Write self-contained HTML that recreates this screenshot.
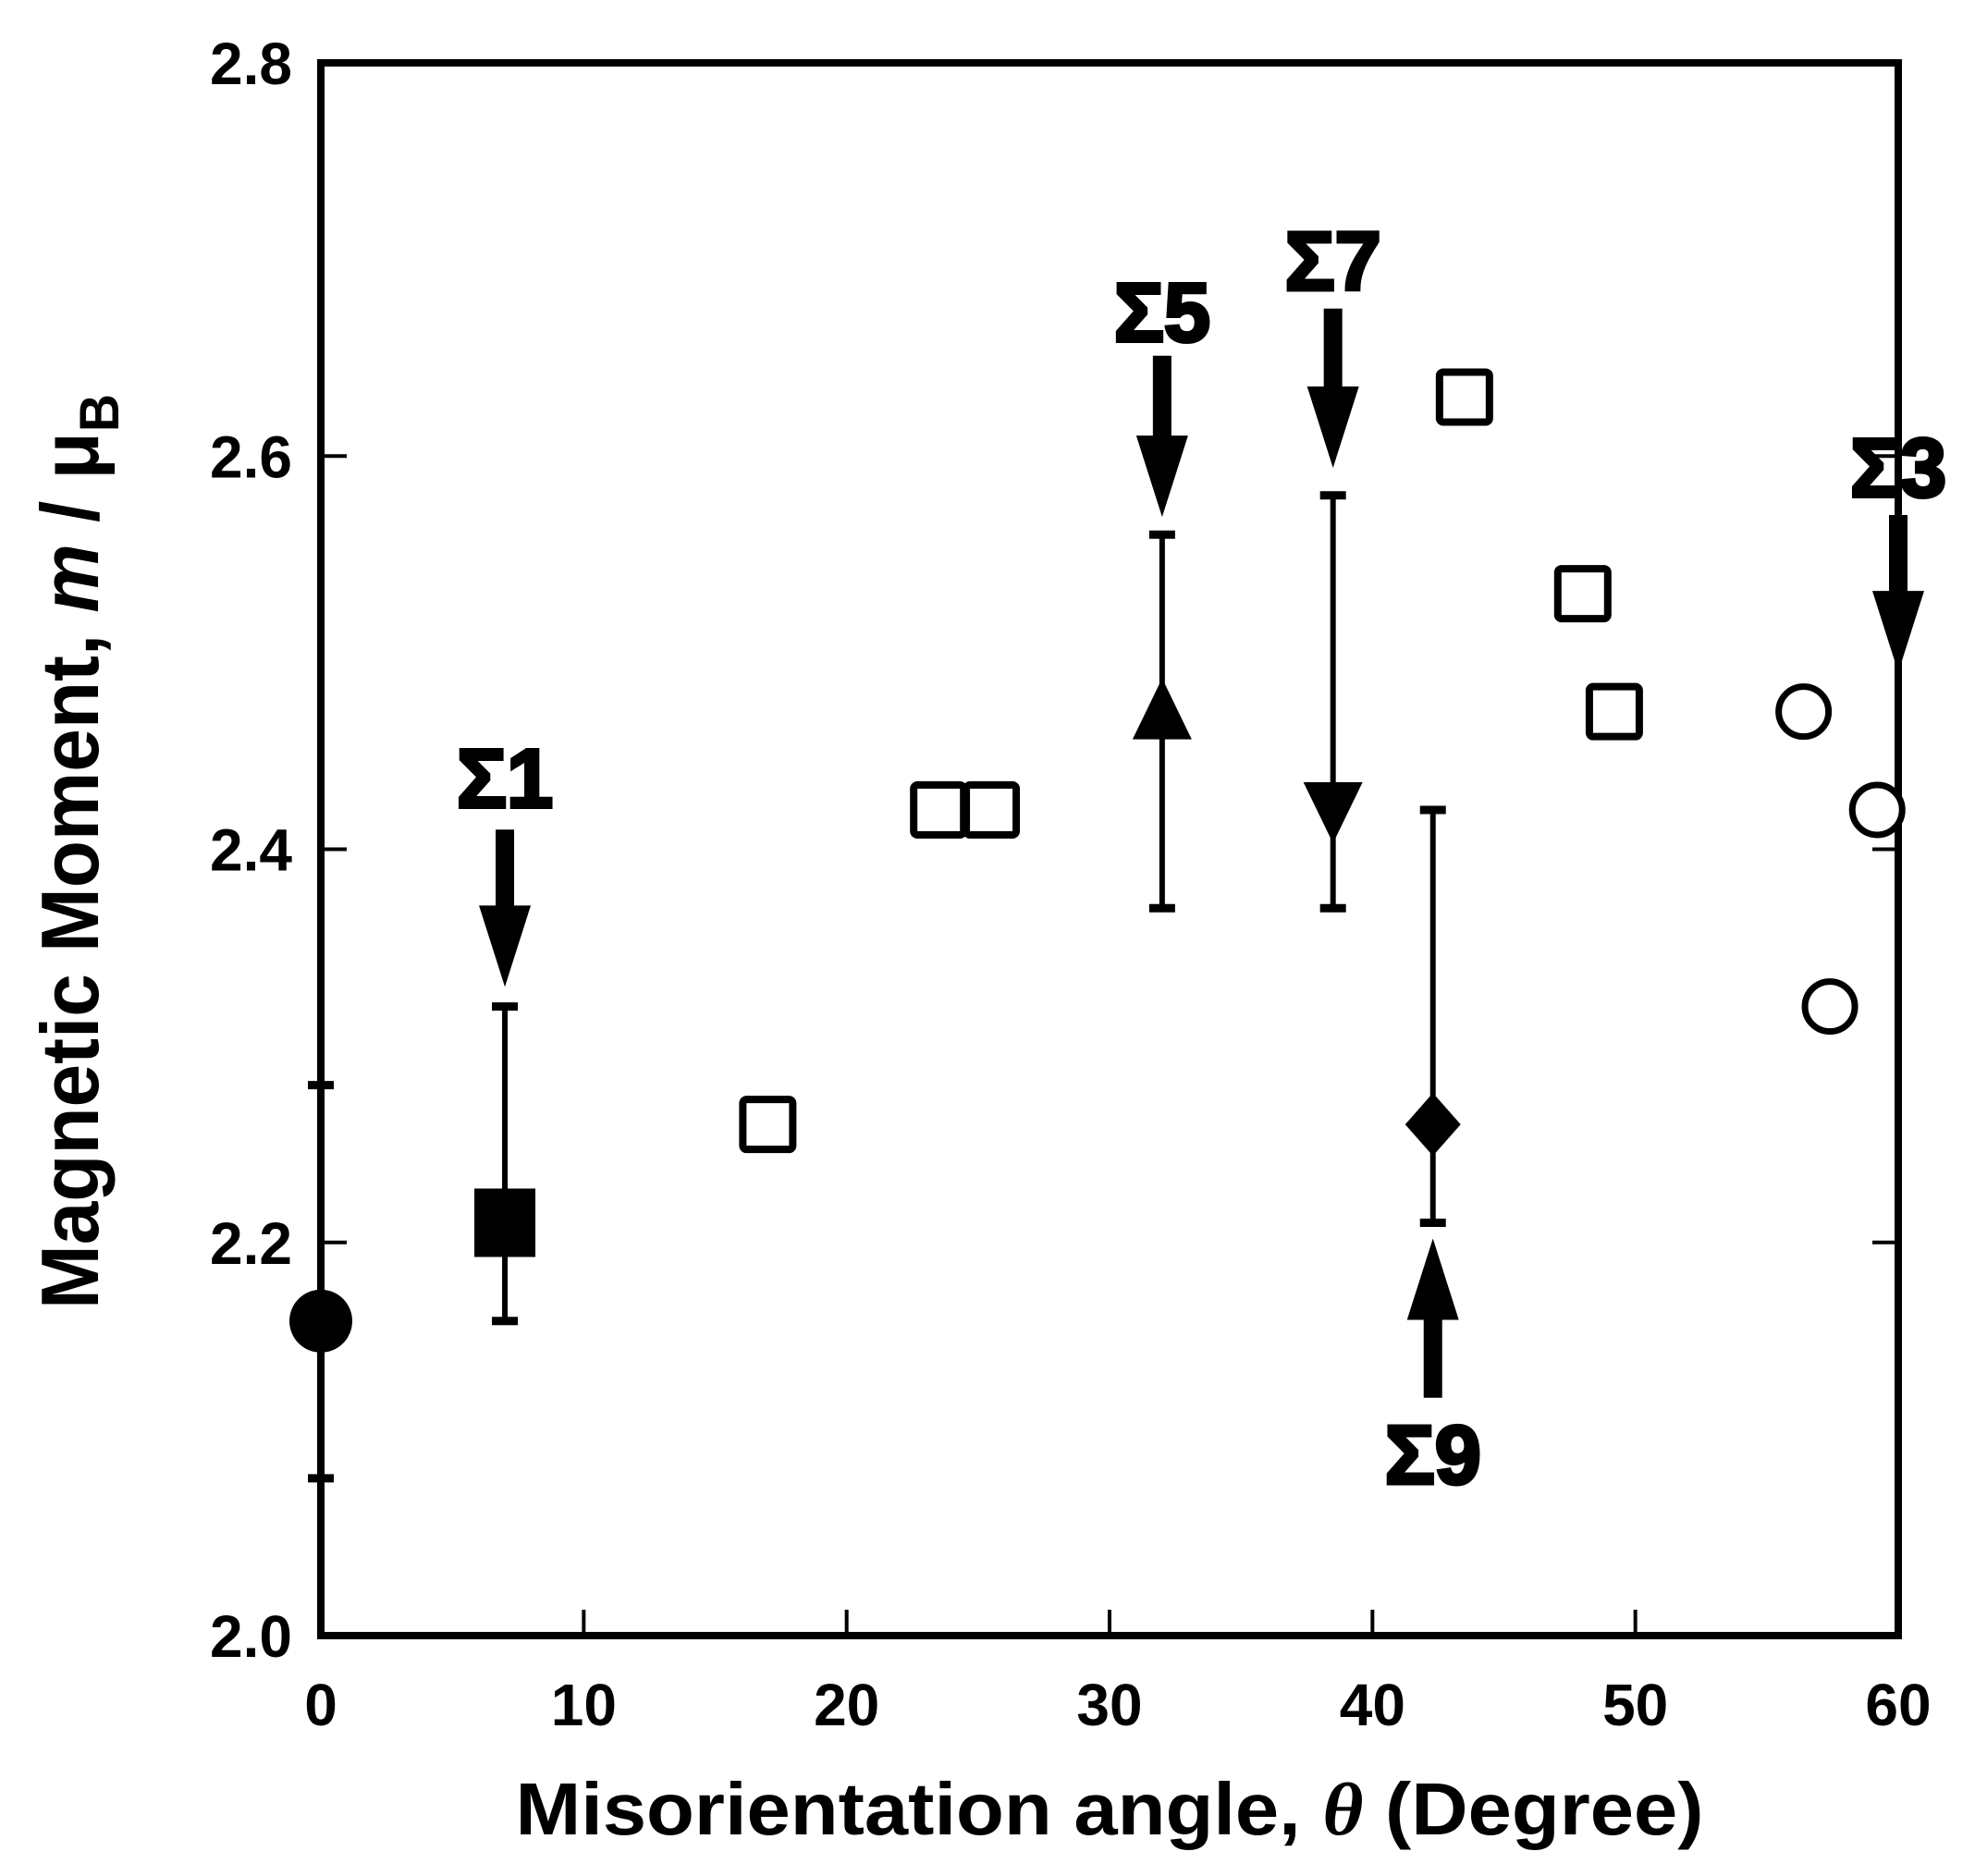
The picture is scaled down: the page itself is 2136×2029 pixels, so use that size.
<!DOCTYPE html>
<html><head><meta charset="utf-8"><style>
html,body{margin:0;padding:0;background:#fff;}
svg{display:block;font-family:"Liberation Sans",Arial,sans-serif;font-weight:bold;}
</style></head><body>
<svg id="chart" width="2136" height="2029" viewBox="0 0 2136 2029" xmlns="http://www.w3.org/2000/svg">
<g id="axes"></g>
<g id="marks"></g>
<g id="notes"></g>
<text transform="translate(106,921) rotate(-90)" text-anchor="middle" font-size="88" textLength="990" lengthAdjust="spacingAndGlyphs">Magnetic Moment, <tspan font-style="italic">m</tspan> / μ<tspan font-size="60" dy="22">B</tspan></text>
<text x="1200" y="1984" text-anchor="middle" font-size="80" textLength="1285" lengthAdjust="spacingAndGlyphs">Misorientation angle, <tspan font-style="italic" font-family="Liberation Serif,serif">θ</tspan> (Degree)</text>
</svg>
<script>
const xTicks=[0,10,20,30,40,50,60];
const yTicks=[2.0,2.2,2.4,2.6,2.8];
const yTickLabels=["2.0","2.2","2.4","2.6","2.8"];
const openSqX=[17,23.5,25.5,43.5,48,49.2];
const openSqY=[2.26,2.42,2.42,2.63,2.53,2.47];
const openCircX=[56.4,57.4,59.2];
const openCircY=[2.47,2.32,2.42];
const errX=[0,7,32,38.5,42.3];
const errY=[2.16,2.21,2.47,2.42,2.26];
const errLo=[2.08,2.16,2.37,2.37,2.21];
const errHi=[2.28,2.32,2.56,2.58,2.42];
const errMarker=["circle","square","triUp","triDown","diamond"];
const arrowLabels=["Σ1","Σ5","Σ7","Σ9","Σ3"];
const arrowX=[7,32,38.5,42.3,60];
const arrowTail=[2.41,2.651,2.675,2.121,2.57];
const arrowHead=[2.33,2.569,2.594,2.202,2.49];
const labelY=[2.437,2.674,2.70,2.093,2.595];

const NS="http://www.w3.org/2000/svg";
const L=347,R=2053,T=68,B=1769;
const sx=v=>L+(v-0)/60*(R-L);
const sy=v=>B-(v-2.0)/0.8*(B-T);
function mk(parent,tag,attrs){const e=document.createElementNS(NS,tag);for(const k in attrs)e.setAttribute(k,attrs[k]);parent.appendChild(e);return e;}
const axes=document.getElementById('axes'),marks=document.getElementById('marks'),notes=document.getElementById('notes');

let fr=mk(axes,'rect',{x:L,y:T,width:R-L,height:B-T,fill:'none',stroke:'#000','stroke-width':8});


xTicks.forEach((t,i)=>{
  if(i>0&&i<xTicks.length-1){
    let tk=mk(axes,'line',{x1:sx(t),x2:sx(t),y1:B,y2:B-28,stroke:'#000','stroke-width':4});
    
    
  }
  let tl=mk(axes,'text',{x:sx(t),y:1866,'text-anchor':'middle','font-size':64});
  tl.textContent=String(t);
  
  
});
yTicks.forEach((t,i)=>{
  if(i>0&&i<yTicks.length-1){
    let a=mk(axes,'line',{x1:L,x2:L+28,y1:sy(t),y2:sy(t),stroke:'#000','stroke-width':4});
    
    
    let b=mk(axes,'line',{x1:R,x2:R-28,y1:sy(t),y2:sy(t),stroke:'#000','stroke-width':4});
    
    
  }
  let tl=mk(axes,'text',{x:316,y:sy(t)+23,'text-anchor':'end','font-size':64});
  tl.textContent=yTickLabels[i];
  
  
});

errX.forEach((x,i)=>{
  const cx=sx(x),cy=sy(errY[i]);
  let ln=mk(marks,'line',{x1:cx,x2:cx,y1:sy(errLo[i]),y2:sy(errHi[i]),stroke:'#000','stroke-width':6});
  
  
  [errLo[i],errHi[i]].forEach(v=>{
    let c=mk(marks,'line',{x1:cx-14,x2:cx+14,y1:sy(v),y2:sy(v),stroke:'#000','stroke-width':9});
    
    
  });
  let m;
  const t=errMarker[i];
  if(t==='circle')m=mk(marks,'circle',{cx:cx,cy:cy,r:34,fill:'#000'});
  else if(t==='square')m=mk(marks,'rect',{x:cx-33,y:cy-37,width:66,height:74,fill:'#000'});
  else if(t==='triUp')m=mk(marks,'polygon',{points:`${cx-32},${cy+30} ${cx+32},${cy+30} ${cx},${cy-36}`,fill:'#000'});
  else if(t==='triDown')m=mk(marks,'polygon',{points:`${cx-32},${cy-30} ${cx+32},${cy-30} ${cx},${cy+36}`,fill:'#000'});
  else m=mk(marks,'polygon',{points:`${cx},${cy-34} ${cx+30},${cy} ${cx},${cy+34} ${cx-30},${cy}`,fill:'#000'});
  
  
});
openSqX.forEach((x,i)=>{
  let r=mk(marks,'rect',{x:sx(x)-27,y:sy(openSqY[i])-27,width:54,height:54,rx:4,fill:'#fff',stroke:'#000','stroke-width':8});
  
  
});
openCircX.forEach((x,i)=>{
  let c=mk(marks,'circle',{cx:sx(x),cy:sy(openCircY[i]),r:27,fill:'#fff',stroke:'#000','stroke-width':7});
  
  
});
arrowX.forEach((x,i)=>{
  const cx=sx(x),y0=sy(arrowTail[i]),y1=sy(arrowHead[i]);
  const dir=y1>y0?1:-1,hl=88;
  const yb=y1-dir*hl;
  let a=mk(notes,'polygon',{points:`${cx-10},${y0} ${cx+10},${y0} ${cx+10},${yb} ${cx+28},${yb} ${cx},${y1} ${cx-28},${yb} ${cx-10},${yb}`,fill:'#000'});
  
  
  let t=mk(notes,'text',{x:cx,y:sy(labelY[i])+33,'text-anchor':'middle','font-size':90,stroke:'#000','stroke-width':4});
  t.textContent=arrowLabels[i];
  
  
});
</script>
</body></html>
